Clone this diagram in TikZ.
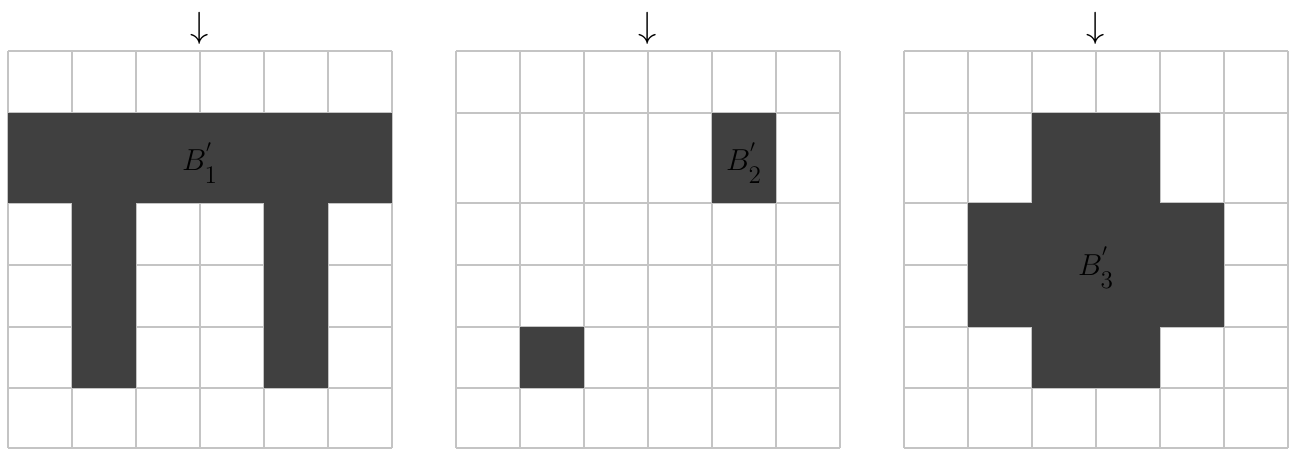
\documentclass[tikz,border=0pt]{standalone}
\usepackage{amsmath}
\usetikzlibrary{positioning}
\begin{document}
\begin{tikzpicture}[x=0.02cm,y=-0.02cm]

\tikzset{
  gridline/.style={draw=black!23, line width=1.2pt},
  blob/.style={fill=black!75},
  arrowlabel/.style={font=\huge, inner sep=0pt},
  setlabel/.style={font=\LARGE, inner sep=0pt, text=black}
}

\newcommand{\pixgrid}[2]{
  \begin{scope}[shift={(#1,0)}]
    \foreach \gx in {0,64,...,384} \draw[gridline] (\gx,51) -- (\gx,448);
    \foreach \gy in {51,113,203,265,327,388,448} \draw[gridline] (0,\gy) -- (384,\gy);
    \node[arrowlabel] (arr#2) at (192,28) {$\downarrow$};
  \end{scope}
}
\newcommand{\subnum}[1]{\raisebox{-3pt}{\text{\Large #1}}}

\useasboundingbox (0,0) rectangle (1299,450);

% Grids
\pixgrid{8}{1}
\pixgrid{456}{2}
\pixgrid{904}{3}

% Grid 1
\fill[blob] (8,113) rectangle (392,203);
\fill[blob] (72,203) rectangle (136,388);
\fill[blob] (264,203) rectangle (328,388);
\node[setlabel] (lab1) at (200,163) {$B^{'}_{\subnum{1}}$};

% Grid 2
\fill[blob] (712,113) rectangle (776,203);
\fill[blob] (520,327) rectangle (584,388);
\node[setlabel] (lab2) at (744,163) {$B^{'}_{\subnum{2}}$};

% Grid 3
\fill[blob] (1032,113) rectangle (1160,203);
\fill[blob] (968,203) rectangle (1224,327);
\fill[blob] (1032,327) rectangle (1160,388);
\node[setlabel] (lab3) at (1096,268) {$B^{'}_{\subnum{3}}$};

\end{tikzpicture}
\end{document}
